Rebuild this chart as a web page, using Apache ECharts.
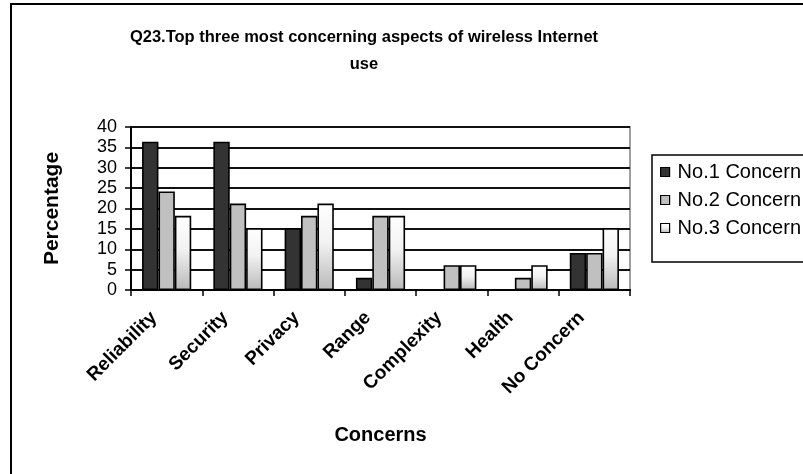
<!DOCTYPE html>
<html>
<head>
<meta charset="utf-8">
<script src="https://cdn.jsdelivr.net/npm/echarts@6/dist/echarts.min.js"></script>
<style>
  html, body { margin: 0; padding: 0; background: #fff; }
  #chart { width: 803px; height: 474px; }
</style>
</head>
<body>
<div id="chart"></div>
<script>
// Survey results: share of respondents (%) naming each aspect as a concern
const categories = ['Reliability', 'Security', 'Privacy', 'Range', 'Complexity', 'Health', 'No Concern'];
const concern1 = [36.4, 36.4, 15.2, 3.0, 0, 0, 9.1];
const concern2 = [24.2, 21.2, 18.2, 18.2, 6.1, 3.0, 9.1];
const concern3 = [18.2, 15.2, 21.2, 18.2, 6.1, 6.1, 15.2];
const seriesNames = ['No.1 Concern', 'No.2 Concern', 'No.3 Concern'];
const yTicks = [0, 5, 10, 15, 20, 25, 30, 35, 40];

const FONT = 'Liberation Sans, Arial, sans-serif';
const chart = echarts.init(document.getElementById('chart'), null, { renderer: 'canvas' });

const barBorder = { borderColor: '#000', borderWidth: 1.6 };
const fills = [
  '#333333',
  '#c0c0c0',
  new echarts.graphic.LinearGradient(0, 0, 0, 1, [
    { offset: 0, color: '#ffffff' },
    { offset: 0.45, color: '#f2f2f2' },
    { offset: 0.97, color: '#bcbcbc' },
    { offset: 1, color: '#ffffff' }
  ])
];
const values = [concern1, concern2, concern3];

chart.setOption({
  animation: false,
  backgroundColor: '#fff',
  title: {
    text: 'Q23.Top three most concerning aspects of wireless Internet\nuse',
    left: 359,
    top: 19,
    textAlign: 'center',
    textStyle: { fontFamily: FONT, fontSize: 16.5, fontWeight: 'bold', color: '#000', lineHeight: 27 }
  },
  graphic: [
    { type: 'rect', z: -1, shape: { x: 11, y: 4, width: 900, height: 600 },
      style: { fill: 'none', stroke: '#000', lineWidth: 2 } },
    { type: 'rect', z: 5, shape: { x: 652, y: 155, width: 200, height: 107 },
      style: { fill: '#fff', stroke: '#000', lineWidth: 1.5 } }
  ],
  legend: {
    orient: 'vertical',
    left: 660,
    top: 162,
    z: 10,
    icon: 'rect',
    itemWidth: 9,
    itemHeight: 9,
    itemGap: 8,
    padding: 0,
    data: seriesNames,
    itemStyle: { borderColor: '#000', borderWidth: 1.2 },
    textStyle: { fontFamily: FONT, fontSize: 20, color: '#000', lineHeight: 20, padding: [0, 0, 0, 3] }
  },
  grid: {
    left: 131, right: 173, top: 127, bottom: 184,
    show: true, borderColor: '#a0a0a0', borderWidth: 2, backgroundColor: '#fff'
  },
  xAxis: {
    type: 'category',
    data: categories,
    name: 'Concerns',
    nameLocation: 'middle',
    nameGap: 135,
    nameTextStyle: { fontFamily: FONT, fontSize: 20, fontWeight: 'bold', color: '#000' },
    axisLine: { lineStyle: { color: '#000', width: 2 } },
    axisTick: { show: true, length: 6, lineStyle: { color: '#000', width: 1.5 } },
    axisLabel: {
      interval: 0, rotate: 45, margin: 12, padding: [0, 18, 0, 0],
      fontFamily: FONT, fontSize: 19, fontWeight: 'bold', color: '#000'
    }
  },
  yAxis: {
    type: 'value',
    min: yTicks[0],
    max: yTicks[yTicks.length - 1],
    interval: yTicks[1] - yTicks[0],
    name: 'Percentage',
    nameLocation: 'middle',
    nameGap: 68,
    nameTextStyle: { fontFamily: FONT, fontSize: 21, fontWeight: 'bold', color: '#000' },
    axisLine: { show: true, lineStyle: { color: '#000', width: 2 } },
    axisTick: { show: true, length: 6, lineStyle: { color: '#000', width: 1.5 } },
    axisLabel: { fontFamily: FONT, fontSize: 18, color: '#000', margin: 14 },
    splitLine: { show: true, lineStyle: { color: '#111', width: 2 } }
  },
  series: seriesNames.map((name, i) => ({
    name,
    type: 'bar',
    data: values[i],
    barGap: '0%',
    barCategoryGap: '31%',
    itemStyle: Object.assign({ color: fills[i] }, barBorder)
  }))
});
</script>
</body>
</html>
